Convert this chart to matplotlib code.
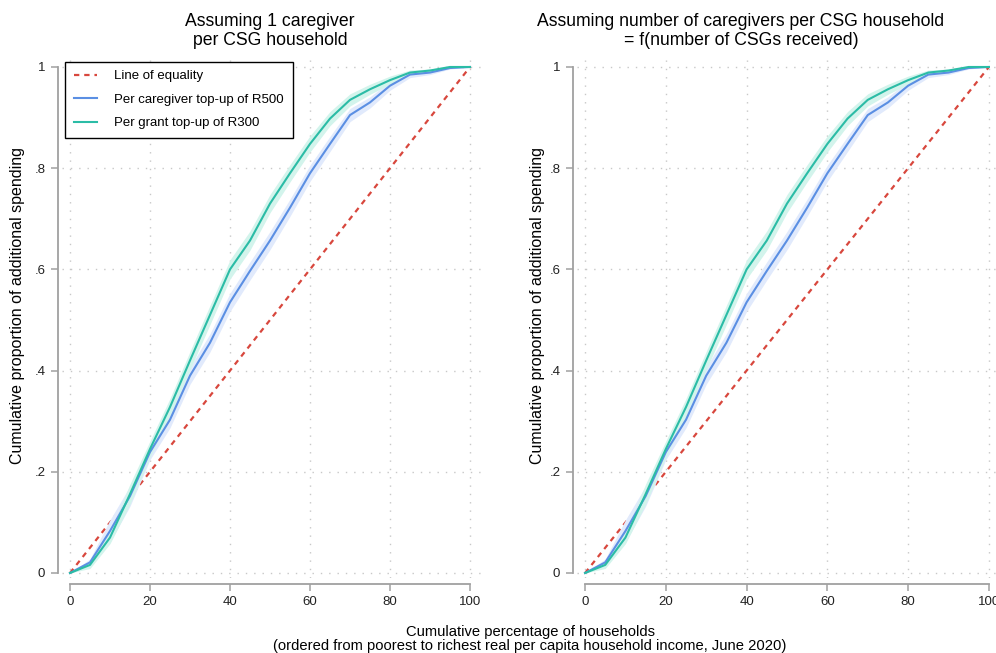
import matplotlib
matplotlib.use("Agg")
from matplotlib import pyplot as plt

plt.rcParams['font.family'] = ['Liberation Sans', 'DejaVu Sans']

# cumulative share of households (x) and cumulative share of spending (y)
pct = [0, 5, 10, 15, 20, 25, 30, 35, 40, 45, 50, 55, 60, 65, 70, 75, 80, 85, 90, 95, 100]
r500 = [0, 0.021, 0.083, 0.152, 0.239, 0.303, 0.39, 0.455, 0.535, 0.597, 0.657, 0.722,
        0.79, 0.848, 0.905, 0.93, 0.963, 0.985, 0.989, 0.998, 1.0]
r300 = [0, 0.016, 0.07, 0.156, 0.245, 0.328, 0.42, 0.51, 0.60, 0.657, 0.73, 0.79,
        0.848, 0.898, 0.935, 0.956, 0.974, 0.989, 0.993, 1.0, 1.0]
# half-width of the shaded confidence bands
ci500 = [0, 0.007, 0.022, 0.02, 0.015, 0.016, 0.017, 0.018, 0.018, 0.018, 0.018, 0.017,
         0.016, 0.015, 0.013, 0.011, 0.009, 0.006, 0.004, 0.002, 0]
ci300 = [0, 0.007, 0.012, 0.02, 0.016, 0.017, 0.018, 0.019, 0.019, 0.019, 0.018, 0.017,
         0.016, 0.014, 0.012, 0.01, 0.008, 0.005, 0.003, 0.002, 0]

titles = ["Assuming 1 caregiver\nper CSG household",
          "Assuming number of caregivers per CSG household\n= f(number of CSGs received)"]
yticks = [0, 0.2, 0.4, 0.6, 0.8, 1]
ytick_labels = ["0", ".2", ".4", ".6", ".8", "1"]
xticks = [0, 20, 40, 60, 80, 100]

blue = '#5b8fe3'
teal = '#2bbca6'
red = '#d8473d'
band_blue = '#e1eafc'
band_teal = '#d3f4ec'
axcol = '#a0a0a0'

W, H = 996, 653
fig = plt.figure(figsize=(W / 100, H / 100), dpi=100, facecolor='w')

# axes boxes in pixels: left, right, top, bottom
boxes = [(62, 482, 60, 578), (577, 1001, 60, 578)]
title_x = [270, 741]
ylabel_x = [18, 537]

for i, (l, r, t, b) in enumerate(boxes):
    ax = fig.add_axes([l / W, (H - b) / H, (r - l) / W, (b - t) / H])
    ax.set_xlim(-2, 103)
    ax.set_ylim(-0.0099, 1.0138)

    lo500 = [v - c for v, c in zip(r500, ci500)]
    hi500 = [v + c for v, c in zip(r500, ci500)]
    lo300 = [v - c for v, c in zip(r300, ci300)]
    hi300 = [v + c for v, c in zip(r300, ci300)]

    ax.plot([0, 100], [0, 1], color=red, lw=1.6, ls=(0, (2.4, 2.2)), zorder=2,
            label='Line of equality')
    ax.fill_between(pct, lo500, hi500, color=band_blue, lw=0, zorder=3)
    ax.fill_between(pct, lo300, hi300, color=band_teal, lw=0, zorder=3)
    ax.plot(pct, r500, color=blue, lw=1.5, zorder=4, label='Per caregiver top-up of R500')
    ax.plot(pct, r300, color=teal, lw=1.5, zorder=5, label='Per grant top-up of R300')

    ax.set_xticks(xticks)
    ax.set_yticks(yticks)
    ax.set_yticklabels(ytick_labels)
    ax.tick_params(axis='both', colors=axcol, labelcolor='#222222', labelsize=9.5,
                   length=5, width=1.1, direction='out')
    ax.tick_params(axis='y', pad=4)
    ax.grid(True, color='#c8c8c8', ls=(0, (1, 5)), lw=1.0, zorder=1)

    for s in ['top', 'right']:
        ax.spines[s].set_visible(False)
    ax.spines['left'].set_position(('outward', 3))
    ax.spines['bottom'].set_position(('outward', 4.5))
    ax.spines['left'].set_bounds(0, 1)
    ax.spines['bottom'].set_bounds(0, 100)
    for s in ['left', 'bottom']:
        ax.spines[s].set_color(axcol)
        ax.spines[s].set_linewidth(1.3)

    fig.text(title_x[i] / W, 1 - 31 / H, titles[i], ha='center', va='center',
             fontsize=12.7, linespacing=1.15)
    fig.text(ylabel_x[i] / W, 1 - 306 / H, 'Cumulative proportion of additional spending',
             rotation=90, ha='center', va='center', fontsize=11.5)

    if i == 0:
        leg = ax.legend(loc='upper left', bbox_to_anchor=(0.007, 0.997), borderaxespad=0,
                        fontsize=9.5, fancybox=False, framealpha=1, edgecolor='black',
                        handlelength=1.8, handletextpad=1.3, labelspacing=0.85,
                        borderpad=0.65)
        leg.get_frame().set_linewidth(1.0)
        leg.set_zorder(10)

fig.text(530 / W, 1 - 639 / H,
         'Cumulative percentage of households\n'
         '(ordered from poorest to richest real per capita household income, June 2020)',
         ha='center', va='center', fontsize=10.6, linespacing=1.0)

fig.savefig('out.png', dpi=100)
